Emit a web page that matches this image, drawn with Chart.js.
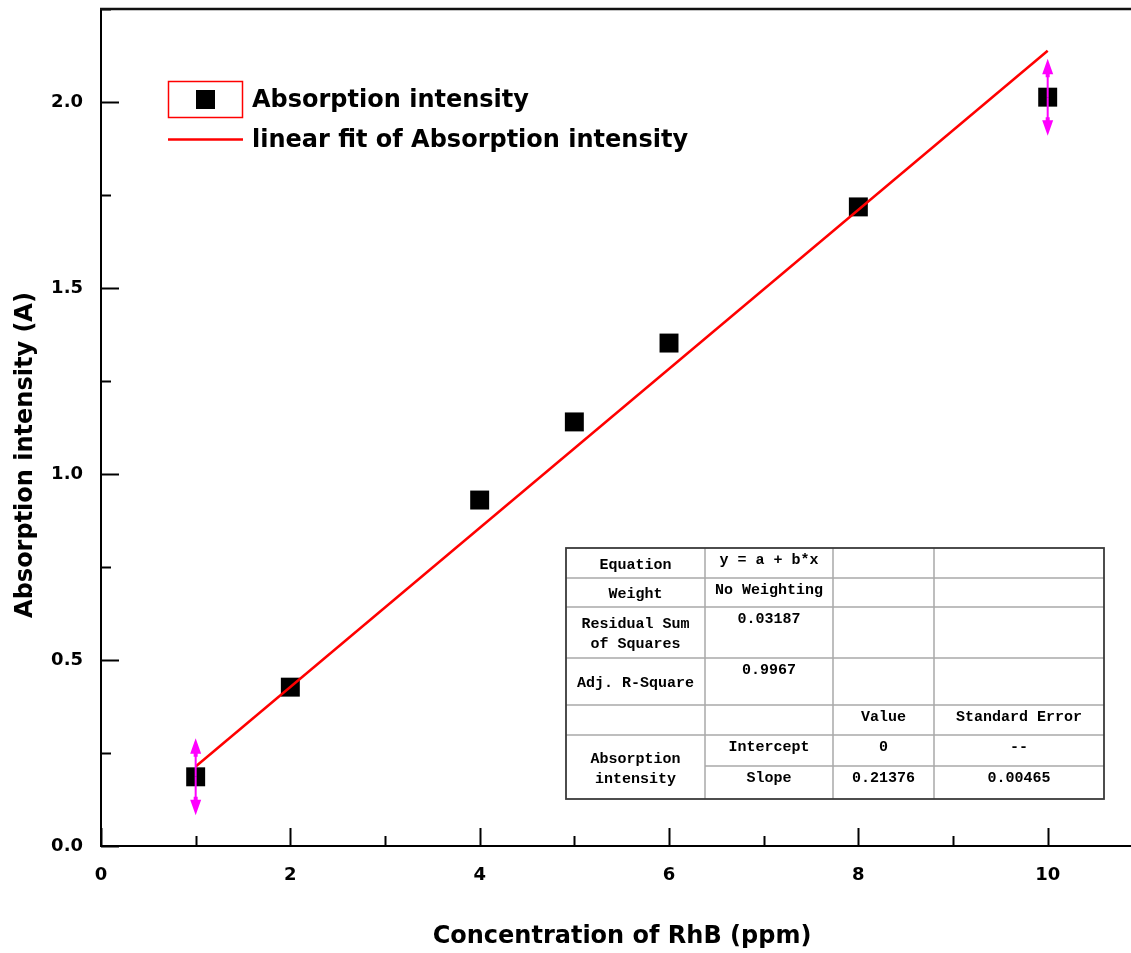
<!DOCTYPE html>
<html>
<head>
<meta charset="utf-8">
<title>Absorption intensity vs RhB concentration</title>
<script src="https://cdn.jsdelivr.net/npm/chart.js@4.4.1/dist/chart.umd.min.js"></script>
<style>
  html, body { margin: 0; padding: 0; background: #ffffff; overflow: hidden; }
  #wrap { width: 1131px; height: 953px; position: relative; }
</style>
</head>
<body>
<div id="wrap"><canvas id="chart" width="1131" height="953"></canvas></div>
<script>
// Measured absorbance of RhB standards
const concentrationPpm = [1, 2, 4, 5, 6, 8, 10];
const absorptionA = [0.186, 0.427, 0.930, 1.140, 1.352, 1.718, 2.013];

// Linear fit results (y = a + b*x)
const fitIntercept = 0;
const fitSlope = 0.21376;
const fitSlopeError = 0.00465;
const residualSumSquares = 0.03187;
const adjRSquare = 0.9967;

// Axis labelling
const xTickLabels = ['0', '2', '4', '6', '8', '10'];
const yTickLabels = ['0.0', '0.5', '1.0', '1.5', '2.0'];
const seriesLabels = ['Absorption intensity', 'linear fit of Absorption intensity'];
const xAxisTitle = 'Concentration of RhB (ppm)';
const yAxisTitle = 'Absorption intensity (A)';

// Fit statistics table contents (null = covered by the merged cell above)
const fitTableRows = [
  ['Equation', 'y = a + b*x', '', ''],
  ['Weight', 'No Weighting', '', ''],
  ['Residual Sum\nof Squares', residualSumSquares.toFixed(5), '', ''],
  ['Adj. R-Square', adjRSquare.toFixed(4), '', ''],
  ['', '', 'Value', 'Standard Error'],
  ['Absorption\nintensity', 'Intercept', String(fitIntercept), '--'],
  [null, 'Slope', fitSlope.toFixed(5), fitSlopeError.toFixed(5)]
];

const scatterPoints = concentrationPpm.map((x, i) => ({ x: x, y: absorptionA[i] }));
const fitRange = [concentrationPpm[0], concentrationPpm[concentrationPpm.length - 1]];
const fitPoints = fitRange.map(x => ({ x: x, y: fitIntercept + fitSlope * x }));

const LABEL_FONT = 'DejaVu Sans';
const TABLE_FONT = '"Liberation Mono", "DejaVu Sans Mono", monospace';

function drawTickMarks(ctx, scale, horizontal, isMajor) {
  const area = scale.chart.chartArea;
  ctx.save();
  ctx.strokeStyle = '#000';
  ctx.lineWidth = 2;
  scale.ticks.forEach(t => {
    const len = isMajor(t.value) ? 18 : 10;
    const p = Math.round(scale.getPixelForValue(t.value)) + 0.5;
    ctx.beginPath();
    if (horizontal) {
      ctx.moveTo(p, area.bottom);
      ctx.lineTo(p, area.bottom - len);
    } else {
      ctx.moveTo(area.left, p);
      ctx.lineTo(area.left + len, p);
    }
    ctx.stroke();
  });
  ctx.restore();
}

function drawRangeArrow(ctx, x, y, dir) {
  // dir = -1 for the arrow above the point, +1 below it
  const tip = y + dir * 38.5;
  const base = y + dir * 23;
  ctx.beginPath();
  ctx.moveTo(x, y);
  ctx.lineTo(x, base);
  ctx.stroke();
  ctx.beginPath();
  ctx.moveTo(x, tip);
  ctx.lineTo(x - 5.5, base);
  ctx.lineTo(x - 2, base);
  ctx.lineTo(x - 2, base - dir * 3);
  ctx.lineTo(x + 2, base - dir * 3);
  ctx.lineTo(x + 2, base);
  ctx.lineTo(x + 5.5, base);
  ctx.closePath();
  ctx.fill();
}

function drawLegend(ctx) {
  ctx.save();
  // scatter entry
  ctx.strokeStyle = '#ff0000';
  ctx.lineWidth = 1.5;
  ctx.strokeRect(168.5, 81.5, 74, 36);
  ctx.fillStyle = '#000';
  ctx.fillRect(196, 90, 19, 19);
  // fit line entry
  ctx.strokeStyle = '#ff0000';
  ctx.lineWidth = 2.5;
  ctx.beginPath();
  ctx.moveTo(168, 139.5);
  ctx.lineTo(243, 139.5);
  ctx.stroke();
  ctx.fillStyle = '#000';
  ctx.font = 'bold 24px ' + LABEL_FONT;
  ctx.textAlign = 'left';
  ctx.textBaseline = 'middle';
  ctx.fillText(seriesLabels[0], 252, 101);
  ctx.fillText(seriesLabels[1], 252, 141);
  ctx.restore();
}

function drawFitTable(ctx) {
  const colEdges = [566, 705, 833, 934, 1104];
  const rowEdges = [548, 578, 607, 658, 705, 735, 766, 799];
  const left = colEdges[0], right = colEdges[colEdges.length - 1];
  const top = rowEdges[0], bottom = rowEdges[rowEdges.length - 1];
  ctx.save();
  ctx.fillStyle = '#ffffff';
  ctx.fillRect(left, top, right - left, bottom - top);

  // inner grid
  ctx.strokeStyle = '#a8a8a8';
  ctx.lineWidth = 1.5;
  for (let c = 1; c < colEdges.length - 1; c++) {
    ctx.beginPath();
    ctx.moveTo(colEdges[c], top);
    ctx.lineTo(colEdges[c], bottom);
    ctx.stroke();
  }
  for (let r = 1; r < rowEdges.length - 1; r++) {
    const mergedBelow = fitTableRows[r] && fitTableRows[r][0] === null;
    ctx.beginPath();
    ctx.moveTo(mergedBelow ? colEdges[1] : left, rowEdges[r]);
    ctx.lineTo(right, rowEdges[r]);
    ctx.stroke();
  }
  // outer frame
  ctx.strokeStyle = '#3a3a3a';
  ctx.lineWidth = 1.8;
  ctx.strokeRect(left, top, right - left, bottom - top);

  // cell text
  ctx.fillStyle = '#000';
  ctx.font = 'bold 15px ' + TABLE_FONT;
  ctx.textAlign = 'center';
  ctx.textBaseline = 'middle';
  fitTableRows.forEach((row, r) => {
    row.forEach((text, c) => {
      if (!text) return;
      const cx = (colEdges[c] + colEdges[c + 1]) / 2;
      const lines = text.split('\n');
      if (c === 0) {
        let span = 1;
        while (fitTableRows[r + span] && fitTableRows[r + span][0] === null) span++;
        const cy = (rowEdges[r] + rowEdges[r + span]) / 2 + 2;
        const y0 = cy - (lines.length - 1) * 10;
        lines.forEach((ln, i) => ctx.fillText(ln, cx, y0 + i * 20));
      } else {
        lines.forEach((ln, i) => ctx.fillText(ln, cx, rowEdges[r] + 12 + i * 20));
      }
    });
  });
  ctx.restore();
}

const originDecor = {
  id: 'originDecor',
  beforeDraw(chart) {
    const ctx = chart.ctx;
    ctx.save();
    ctx.fillStyle = '#ffffff';
    ctx.fillRect(0, 0, chart.width, chart.height);
    ctx.restore();
  },
  afterDatasetsDraw(chart) {
    const ctx = chart.ctx;
    const pts = chart.getDatasetMeta(1).data;
    const ends = [pts[0], pts[pts.length - 1]];
    ctx.save();
    ctx.strokeStyle = '#ff00ff';
    ctx.fillStyle = '#ff00ff';
    ctx.lineWidth = 2;
    ends.forEach(p => {
      drawRangeArrow(ctx, p.x, p.y, -1);
      drawRangeArrow(ctx, p.x, p.y, 1);
    });
    ctx.restore();
  },
  afterDraw(chart) {
    const ctx = chart.ctx;
    const area = chart.chartArea;
    const xs = chart.scales.x, ys = chart.scales.y;

    drawTickMarks(ctx, xs, true, v => xTickLabels.includes(String(v)));
    drawTickMarks(ctx, ys, false, v => Math.abs(v * 2 - Math.round(v * 2)) < 1e-9);

    // top frame line
    ctx.save();
    ctx.strokeStyle = '#111';
    ctx.lineWidth = 2.5;
    ctx.beginPath();
    ctx.moveTo(area.left - 1, area.top);
    ctx.lineTo(area.right, area.top);
    ctx.stroke();
    ctx.restore();

    // axis titles
    ctx.save();
    ctx.fillStyle = '#000';
    ctx.font = 'bold 24px ' + LABEL_FONT;
    ctx.textAlign = 'center';
    ctx.textBaseline = 'middle';
    ctx.fillText(xAxisTitle, 622, 937);
    ctx.translate(26, 455);
    ctx.rotate(-Math.PI / 2);
    ctx.fillText(yAxisTitle, 0, 0);
    ctx.restore();

    drawLegend(ctx);
    drawFitTable(ctx);
  }
};

const tickFont = { family: LABEL_FONT, weight: 'bold', size: 18 };

new Chart(document.getElementById('chart'), {
  type: 'scatter',
  data: {
    datasets: [
      {
        type: 'line',
        label: seriesLabels[1],
        data: fitPoints,
        borderColor: '#ff0000',
        borderWidth: 2.5,
        pointRadius: 0,
        fill: false,
        tension: 0,
        order: 0
      },
      {
        type: 'scatter',
        label: seriesLabels[0],
        data: scatterPoints,
        pointStyle: 'rect',
        pointRadius: 13.4,
        pointBorderWidth: 0,
        backgroundColor: '#000000',
        borderColor: '#000000',
        order: 1
      }
    ]
  },
  options: {
    responsive: false,
    animation: false,
    events: [],
    layout: { autoPadding: false, padding: { top: 9, left: 0, right: 0, bottom: 0 } },
    plugins: { legend: { display: false }, tooltip: { enabled: false } },
    scales: {
      x: {
        type: 'linear',
        position: 'bottom',
        min: 0,
        max: 10.88,
        grid: { display: false, drawTicks: false },
        border: { display: true, color: '#000', width: 2 },
        ticks: {
          stepSize: 1,
          includeBounds: false,
          autoSkip: false,
          maxRotation: 0,
          padding: 19,
          color: '#000',
          font: tickFont,
          callback: v => (xTickLabels.includes(String(v)) ? String(v) : '')
        },
        afterFit: s => {
          s.height = 107;
          s.paddingLeft = 0;
          s.paddingRight = 0;
        }
      },
      y: {
        type: 'linear',
        position: 'left',
        min: 0,
        max: 2.25,
        grid: { display: false, drawTicks: false },
        border: { display: true, color: '#000', width: 2 },
        ticks: {
          stepSize: 0.25,
          includeBounds: false,
          autoSkip: false,
          padding: 18,
          color: '#000',
          font: tickFont,
          callback: v => {
            const s = Number(v).toFixed(1);
            return (Math.abs(v * 2 - Math.round(v * 2)) < 1e-9 && yTickLabels.includes(s)) ? s : '';
          }
        },
        afterFit: s => {
          s.width = 101;
          s.paddingTop = 0;
          s.paddingBottom = 0;
        }
      }
    }
  },
  plugins: [originDecor]
});
</script>
</body>
</html>
